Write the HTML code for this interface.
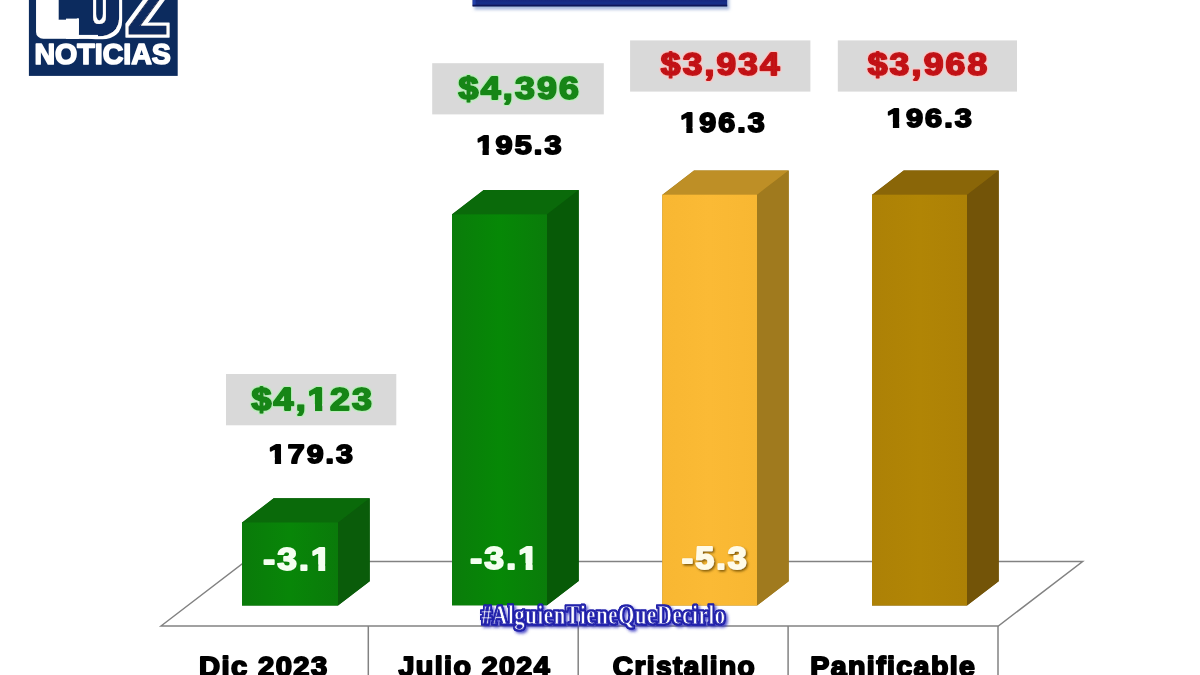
<!DOCTYPE html>
<html lang="es">
<head>
<meta charset="utf-8">
<title>Luz Noticias</title>
<style>
html,body{margin:0;padding:0;background:#fff;overflow:hidden}
svg{display:block}
text{font-family:"Liberation Sans",sans-serif;font-weight:bold}
.wm{font-family:"Liberation Serif",serif;font-weight:bold}
</style>
</head>
<body>
<svg width="1200" height="675" viewBox="0 0 1200 675">
<defs>
<linearGradient id="gG" x1="0" x2="1" y1="0" y2="0"><stop offset="0" stop-color="#0a7a0a"/><stop offset="0.5" stop-color="#088608"/><stop offset="1" stop-color="#0a7a0a"/></linearGradient>
<linearGradient id="gG2" x1="0" x2="1" y1="0" y2="0"><stop offset="0" stop-color="#0a7c0a"/><stop offset="0.5" stop-color="#068806"/><stop offset="1" stop-color="#0a7c0a"/></linearGradient>
<linearGradient id="gY" x1="0" x2="1" y1="0" y2="0"><stop offset="0" stop-color="#f8b732"/><stop offset="0.5" stop-color="#fbba35"/><stop offset="1" stop-color="#f8b732"/></linearGradient>
<linearGradient id="gB" x1="0" x2="1" y1="0" y2="0"><stop offset="0" stop-color="#ad8106"/><stop offset="0.5" stop-color="#b18505"/><stop offset="1" stop-color="#ad8106"/></linearGradient>
<filter id="lblsh" x="-20%" y="-20%" width="140%" height="150%"><feDropShadow dx="1.3" dy="1.6" stdDeviation="0.9" flood-color="#6b4600" flood-opacity="0.85"/></filter>
<filter id="boxsh" x="460" y="-12" width="285" height="40" filterUnits="userSpaceOnUse"><feDropShadow dx="2" dy="3" stdDeviation="1.8" flood-color="#6080c0" flood-opacity="0.55"/></filter>
<linearGradient id="gT" x1="0" x2="0" y1="0" y2="1"><stop offset="0.4" stop-color="#0c1f70"/><stop offset="0.8" stop-color="#182f8a"/><stop offset="1" stop-color="#122676"/></linearGradient>
<filter id="wmsh" x="460" y="590" width="290" height="60" filterUnits="userSpaceOnUse" primitiveUnits="userSpaceOnUse"><feMorphology in="SourceAlpha" operator="dilate" radius="1.1" result="d"/><feGaussianBlur in="d" stdDeviation="0.7" result="db"/><feFlood flood-color="#2222aa" result="bl"/><feComposite in="bl" in2="db" operator="in" result="o"/><feOffset in="d" dx="1.6" dy="1.6" result="so"/><feGaussianBlur in="so" stdDeviation="1.6" result="sb"/><feFlood flood-color="#3030c0" flood-opacity="0.85" result="sf"/><feComposite in="sf" in2="sb" operator="in" result="s"/><feMerge><feMergeNode in="s"/><feMergeNode in="o"/><feMergeNode in="o"/><feMergeNode in="SourceGraphic"/></feMerge></filter>
<filter id="outl" x="-5%" y="-5%" width="110%" height="120%" filterUnits="userSpaceOnUse" primitiveUnits="userSpaceOnUse"><feMorphology in="SourceAlpha" operator="dilate" radius="3.0" result="d"/><feGaussianBlur in="d" stdDeviation="0.35" result="db"/><feFlood flood-color="#ffffff"/><feComposite in2="db" operator="in" result="o"/><feMerge><feMergeNode in="o"/><feMergeNode in="SourceGraphic"/></feMerge></filter>
<filter id="glG" x="-10%" y="-30%" width="120%" height="160%"><feMorphology in="SourceAlpha" operator="dilate" radius="0.7" result="d"/><feGaussianBlur in="d" stdDeviation="0.7" result="db"/><feFlood flood-color="#b4f2b4" flood-opacity="0.9"/><feComposite in2="db" operator="in" result="g"/><feMerge><feMergeNode in="g"/><feMergeNode in="SourceGraphic"/></feMerge></filter>
<filter id="glR" x="-10%" y="-30%" width="120%" height="160%"><feMorphology in="SourceAlpha" operator="dilate" radius="0.7" result="d"/><feGaussianBlur in="d" stdDeviation="0.7" result="db"/><feFlood flood-color="#ffc4c4" flood-opacity="0.9"/><feComposite in2="db" operator="in" result="g"/><feMerge><feMergeNode in="g"/><feMergeNode in="SourceGraphic"/></feMerge></filter>
<mask id="k1" maskUnits="userSpaceOnUse" x="221" y="357" width="181" height="84"><rect x="221" y="357" width="181" height="84" fill="#fff"/><rect x="307.13" y="403.97" width="7.88" height="8.02" fill="#000"/><rect x="322.28" y="403.97" width="7.39" height="8.02" fill="#000"/></mask>
<mask id="k2" maskUnits="userSpaceOnUse" x="240" y="414" width="144" height="80"><rect x="240" y="414" width="144" height="80" fill="#fff"/><rect x="267.93" y="457.76" width="6.91" height="7.09" fill="#000"/><rect x="281.08" y="457.76" width="6.50" height="7.09" fill="#000"/></mask>
<mask id="k3" maskUnits="userSpaceOnUse" x="447" y="104" width="144" height="80"><rect x="447" y="104" width="144" height="80" fill="#fff"/><rect x="475.52" y="148.43" width="6.98" height="7.12" fill="#000"/><rect x="488.81" y="148.43" width="6.57" height="7.12" fill="#000"/></mask>
<mask id="k4" maskUnits="userSpaceOnUse" x="651" y="82" width="144" height="81"><rect x="651" y="82" width="144" height="81" fill="#fff"/><rect x="679.43" y="126.97" width="6.92" height="7.30" fill="#000"/><rect x="692.60" y="126.97" width="6.51" height="7.30" fill="#000"/></mask>
<mask id="k5" maskUnits="userSpaceOnUse" x="858" y="78" width="144" height="80"><rect x="858" y="78" width="144" height="80" fill="#fff"/><rect x="885.92" y="122.16" width="6.98" height="7.09" fill="#000"/><rect x="899.21" y="122.16" width="6.57" height="7.09" fill="#000"/></mask>
<mask id="k6" maskUnits="userSpaceOnUse" x="234" y="517" width="122" height="84"><rect x="234" y="517" width="122" height="84" fill="#fff"/><rect x="310.49" y="564.41" width="7.79" height="7.66" fill="#000"/><rect x="325.24" y="564.41" width="7.31" height="7.66" fill="#000"/></mask>
<mask id="k7" maskUnits="userSpaceOnUse" x="440" y="516" width="122" height="84"><rect x="440" y="516" width="122" height="84" fill="#fff"/><rect x="517.79" y="563.09" width="7.84" height="7.79" fill="#000"/><rect x="532.64" y="563.09" width="7.36" height="7.79" fill="#000"/></mask>
</defs>
<rect x="0" y="0" width="1200" height="675" fill="#ffffff"/>

<!-- logo -->
<g id="logo">
<rect x="28.9" y="-2" width="148.8" height="77.9" fill="#0c2b5e"/>
<text transform="translate(39.80 31.87) scale(0.5471 0.4999)" font-size="100" fill="#ffffff" stroke="#ffffff" stroke-width="26.91" stroke-linejoin="round">L</text>
<g filter="url(#outl)">
<text transform="translate(78.93 32.69) scale(0.5689 0.6016)" font-size="100" fill="#0c2b5e" stroke="#0c2b5e" stroke-width="8.98" stroke-linejoin="round">U</text>
<text transform="translate(127.02 34.01) scale(0.6710 0.7000)" font-size="100" fill="#0c2b5e" stroke="#0c2b5e" stroke-width="1.84" stroke-linejoin="round">Z</text>
</g>
<rect x="59.2" y="-1" width="32.3" height="19.4" fill="#0c2b5e"/>
<rect x="78.8" y="18" width="12.7" height="17" fill="#0c2b5e"/>
<rect x="70" y="34.9" width="28" height="4" fill="#ffffff"/>
<rect x="66" y="18.6" width="12.9" height="20.3" fill="#ffffff"/>
<text transform="translate(34.41 64.21) scale(0.9524 0.9913)" font-size="30" fill="#fff" stroke="#fff" stroke-width="1.7" stroke-linejoin="round">NOTICIAS</text>
</g>

<!-- title box (cropped) -->
<g filter="url(#boxsh)"><rect x="472.6" y="-10" width="254.6" height="16.4" fill="url(#gT)"/><rect x="472.6" y="-10" width="3" height="15" fill="#2a48b8" opacity="0.7"/><rect x="472.6" y="4.8" width="254.6" height="1.6" fill="#0a1858"/></g>

<!-- price boxes -->
<rect x="226" y="374" width="170.3" height="51.3" fill="#d9d9d9"/>
<rect x="432.2" y="63.2" width="171.6" height="51.2" fill="#d9d9d9"/>
<rect x="630.1" y="40.4" width="180.3" height="51.2" fill="#d9d9d9"/>
<rect x="837.8" y="40.4" width="179.2" height="51.2" fill="#d9d9d9"/>

<!-- floor -->
<g fill="none" stroke="#828282" stroke-width="1.5">
<polygon points="161,626 245.3,561.5 1082.6,561.5 998.3,626"/>
<line x1="368.3" y1="626" x2="368.3" y2="676"/>
<line x1="578.2" y1="626" x2="578.2" y2="676"/>
<line x1="788.1" y1="626" x2="788.1" y2="676"/>
<line x1="998" y1="626" x2="998" y2="676"/>
</g>

<!-- bars -->
<polygon points="242,605.5 242,522.5 273.7,498.2 369.7,498.2 369.7,581.2 338,605.5" fill="#0a5c0a"/>
<polygon points="242,523 273.7,498.2 369.7,498.2 338.5,523" fill="#0a6a0a"/>
<polygon points="338,522.5 369.7,498.2 369.7,581.2 338,605.5" fill="#0a5c0a"/>
<rect x="242" y="522.5" width="96" height="83" fill="url(#gG)"/>
<polygon points="452,605.3 452,214.3 483.7,190 578.7,190 578.7,581 547,605.3" fill="#075a07"/>
<polygon points="452,214.8 483.7,190 578.7,190 547.5,214.8" fill="#0a6a0a"/>
<polygon points="547,214.3 578.7,190 578.7,581 547,605.3" fill="#075a07"/>
<rect x="452" y="214.3" width="95" height="391" fill="url(#gG2)"/>
<polygon points="662.3,605.5 662.3,194.7 694,170.4 788.7,170.4 788.7,581.2 757,605.5" fill="#a07a1e"/>
<polygon points="662.3,195.2 694,170.4 788.7,170.4 757.5,195.2" fill="#be8f26"/>
<polygon points="757,194.7 788.7,170.4 788.7,581.2 757,605.5" fill="#a07a1e"/>
<rect x="662.3" y="194.7" width="94.7" height="410.8" fill="url(#gY)"/>
<polygon points="872,605.5 872,194.7 903.7,170.4 998.7,170.4 998.7,581.2 967,605.5" fill="#735408"/>
<polygon points="872,195.2 903.7,170.4 998.7,170.4 967.5,195.2" fill="#8a6608"/>
<polygon points="967,194.7 998.7,170.4 998.7,581.2 967,605.5" fill="#735408"/>
<rect x="872" y="194.7" width="95" height="410.8" fill="url(#gB)"/>

<!-- texts -->
<g mask="url(#k1)"><text transform="translate(251.46 409.77) scale(1.1169 0.9818)" font-size="32" fill="#138613" stroke="#138613" stroke-width="2.1" stroke-linejoin="round" filter="url(#glG)" letter-spacing="2.0">$4,123</text></g>
<text transform="translate(458.56 98.67) scale(1.1169 0.9818)" font-size="32" fill="#138613" stroke="#138613" stroke-width="2.1" stroke-linejoin="round" filter="url(#glG)" letter-spacing="2.0">$4,396</text>
<text transform="translate(660.85 75.26) scale(1.1021 0.9899)" font-size="32" fill="#c21216" stroke="#c21216" stroke-width="2.1" stroke-linejoin="round" filter="url(#glR)" letter-spacing="2.0">$3,934</text>
<text transform="translate(867.65 75.26) scale(1.1097 0.9899)" font-size="32" fill="#c21216" stroke="#c21216" stroke-width="2.1" stroke-linejoin="round" filter="url(#glR)" letter-spacing="2.0">$3,968</text>
<g mask="url(#k2)"><text transform="translate(268.79 462.83) scale(1.0844 0.9379)" font-size="28" fill="#000" stroke="#000" stroke-width="1.9" stroke-linejoin="round" letter-spacing="1.9">179.3</text></g>
<g mask="url(#k3)"><text transform="translate(476.38 153.52) scale(1.0961 0.9425)" font-size="28" fill="#000" stroke="#000" stroke-width="1.9" stroke-linejoin="round" letter-spacing="1.9">195.3</text></g>
<g mask="url(#k4)"><text transform="translate(680.29 132.19) scale(1.0857 0.9655)" font-size="28" fill="#000" stroke="#000" stroke-width="1.9" stroke-linejoin="round" letter-spacing="1.9">196.3</text></g>
<g mask="url(#k5)"><text transform="translate(886.78 127.23) scale(1.0961 0.9379)" font-size="28" fill="#000" stroke="#000" stroke-width="1.9" stroke-linejoin="round" letter-spacing="1.9">196.3</text></g>
<g mask="url(#k6)"><text transform="translate(263.22 570.00) scale(1.1040 0.9616)" font-size="32" fill="#f4fff0" stroke="#f4fff0" stroke-width="1.9" stroke-linejoin="round" letter-spacing="2.0">-3.1</text></g>
<g mask="url(#k7)"><text transform="translate(470.22 568.78) scale(1.1112 0.9778)" font-size="32" fill="#f4fff0" stroke="#f4fff0" stroke-width="1.9" stroke-linejoin="round" letter-spacing="2.0">-3.1</text></g>
<text transform="translate(681.73 569.28) scale(1.0617 0.9778)" font-size="32" fill="#fffbe8" stroke="#fffbe8" stroke-width="1.9" stroke-linejoin="round" filter="url(#lblsh)" letter-spacing="2.0">-5.3</text>
<text transform="translate(198.92 675.62) scale(1.0809 1.0400)" font-size="27" fill="#000" stroke="#000" stroke-width="1.8" stroke-linejoin="round" letter-spacing="1.3">Dic 2023</text>
<text transform="translate(398.53 675.62) scale(1.0627 1.0400)" font-size="27" fill="#000" stroke="#000" stroke-width="1.8" stroke-linejoin="round" letter-spacing="1.3">Julio 2024</text>
<text transform="translate(612.74 675.62) scale(1.0424 1.0400)" font-size="27" fill="#000" stroke="#000" stroke-width="1.8" stroke-linejoin="round" letter-spacing="1.3">Cristalino</text>
<text transform="translate(810.24 675.62) scale(1.0595 1.0400)" font-size="27" fill="#000" stroke="#000" stroke-width="1.8" stroke-linejoin="round" letter-spacing="1.3">Panificable</text>
<g filter="url(#wmsh)"><text transform="translate(481.30 624.15) scale(0.6920 0.9060)" font-size="30" fill="#ffffff" stroke="#2424ac" stroke-width="1.0" stroke-linejoin="round" class="wm" letter-spacing="0.9">#AlguienTieneQueDecirlo</text></g>
</svg>
</body>
</html>
